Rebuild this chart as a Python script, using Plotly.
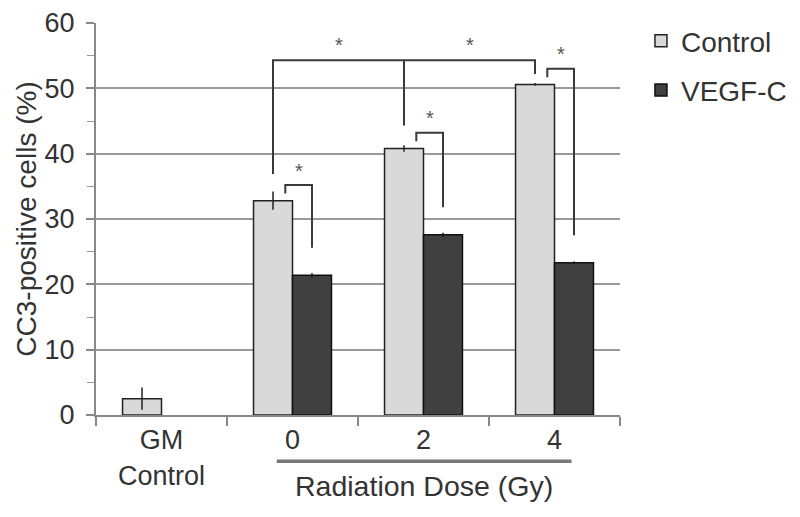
import plotly.graph_objects as go

categories = ["GM<br>Control", "0", "2", "4"]
control_vals = [2.5, 32.8, 40.8, 50.6]
control_err = [1.7, 1.4, 0.5, 0.2]
vegf_vals = [None, 21.4, 27.6, 23.3]
vegf_err = [0, 0.3, 0.3, 0.2]

FONT = "Liberation Sans, Arial, sans-serif"
TXT = "#333333"

fig = go.Figure()
fig.add_trace(go.Bar(
    x=categories, y=control_vals, name="Control", legendgroup="a",
    marker=dict(color="#d9d9d9", line=dict(color="#222222", width=1.5)),
    error_y=dict(type="data", array=control_err, color="#222222", thickness=1.5, width=0),
))
fig.add_trace(go.Bar(
    x=categories, y=vegf_vals, name="VEGF-C", legendgroup="b",
    marker=dict(color="#404040", line=dict(color="#111111", width=1.5)),
    error_y=dict(type="data", array=vegf_err, color="#111111", thickness=1.5, width=0),
))

bar_w = 0.2977
shapes = []
annotations = []
line_style = dict(color="#3a3a3a", width=2)
star_font = dict(size=20, color="#555555", family=FONT)

# pairwise brackets (control vs VEGF-C at each dose)
for i in (1, 2, 3):
    c, v = control_vals[i], vegf_vals[i]
    xl = i - 0.055
    xr = i + bar_w / 2
    top = c + 2.4
    shapes.append(dict(type="path", xref="x", yref="y",
                       path=f"M {xl},{c + 1.1} L {xl},{top} L {xr},{top} L {xr},{v + 4.2}",
                       line=line_style))
    annotations.append(dict(x=(xl + xr) / 2, y=top + 0.2, xref="x", yref="y", text="*",
                            showarrow=False, yanchor="bottom", font=star_font))

# large bracket across doses
xc = [i - bar_w / 2 for i in (1, 2, 3)]
ytop = 54.3
shapes.append(dict(type="path", xref="x", yref="y",
                   path=f"M {xc[0]},{control_vals[1] + 4.1} L {xc[0]},{ytop} L {xc[2]},{ytop} L {xc[2]},{control_vals[3] + 1.6}",
                   line=line_style))
shapes.append(dict(type="line", xref="x", yref="y", x0=xc[1], x1=xc[1],
                   y0=ytop, y1=control_vals[2] + 3.5, line=line_style))
for a, b in ((xc[0], xc[1]), (xc[1], xc[2])):
    annotations.append(dict(x=(a + b) / 2, y=ytop + 0.3, xref="x", yref="y", text="*",
                            showarrow=False, yanchor="bottom", font=star_font))

# radiation dose underline and label
shapes.append(dict(type="line", xref="x", yref="paper", x0=0.88, x1=3.13,
                   y0=-0.118, y1=-0.118, line=dict(color="#777777", width=3.5)))
annotations.append(dict(x=2, y=-0.182, xref="x", yref="paper", text="Radiation Dose (Gy)",
                        showarrow=False, yanchor="middle",
                        font=dict(size=28.5, color=TXT, family=FONT)))

fig.update_layout(
    width=800, height=517,
    margin=dict(l=88, r=188, t=8, b=110),
    paper_bgcolor="white", plot_bgcolor="white",
    barmode="group", bargap=0.405, bargroupgap=0,
    font=dict(family=FONT, color=TXT, size=27),
    shapes=shapes, annotations=annotations,
    legend=dict(x=1.04, y=1.018, xanchor="left", yanchor="top",
                font=dict(size=28, color=TXT, family=FONT),
                traceorder="grouped", tracegroupgap=10, itemwidth=30),
    showlegend=True,
)
fig.update_xaxes(
    range=[-0.5, 3.5], tickson="boundaries", ticks="outside", ticklen=9,
    tickcolor="#888888", tickwidth=1.5, showline=True, linecolor="#888888", linewidth=2,
    showgrid=False, tickfont=dict(size=27, color=TXT, family=FONT), automargin=False,
)
fig.update_yaxes(
    range=[0, 60], dtick=10, ticks="outside", ticklen=8, tickcolor="#888888", tickwidth=1.5,
    showline=True, linecolor="#888888", linewidth=2,
    showgrid=True, gridcolor="#999999", gridwidth=1.5, zeroline=False,
    minor=dict(dtick=5, ticks="outside", ticklen=7, tickcolor="#999999", tickwidth=1.2, showgrid=False),
    tickfont=dict(size=27, color=TXT, family=FONT), ticklabelstandoff=6, automargin=False,
    title=dict(text="CC3-positive cells (%)", font=dict(size=28, color=TXT, family=FONT), standoff=0),
)

fig.write_html("out.html")
